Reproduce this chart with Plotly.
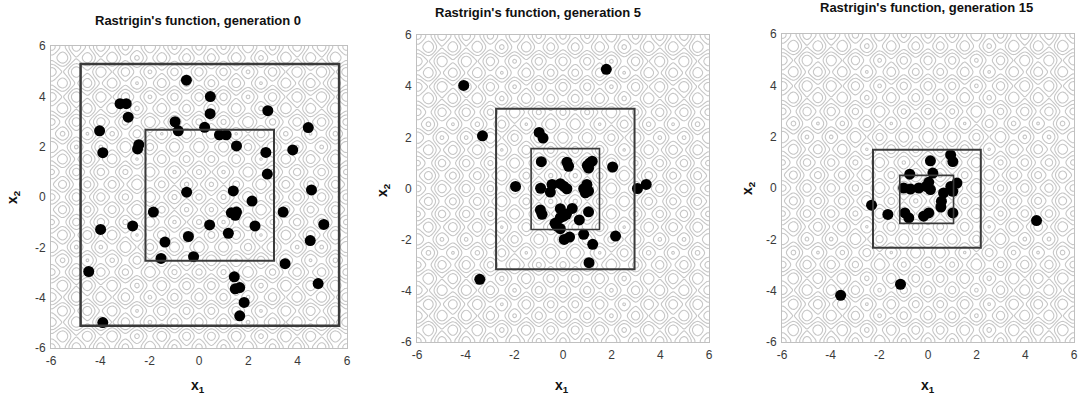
import numpy as np
import plotly.graph_objects as go

# ---------------- data ----------------
titles = ["Rastrigin's function, generation 0",
          "Rastrigin's function, generation 5",
          "Rastrigin's function, generation 15"]

gen0_x = [-0.51, -3.2, -2.95, -2.87, 0.46, 0.45, 2.79, -4.03, -0.97, -0.84, 0.23, 0.83, 1.10,
          1.52, 4.43, -3.90, -2.44, -2.49, 2.71, 3.80, 2.77, -0.50, 1.39, 4.56, 2.15, -1.85,
          1.31, 1.47, 1.52, 3.41, 5.06, -3.99, -2.69, 0.43, 2.27, 1.19, -0.43, -1.38, 4.51,
          -1.54, -0.22, 3.49, -4.47, 1.43, 1.47, 1.65, 4.83, 1.83, 1.65, -3.90]
gen0_y = [4.64, 3.71, 3.71, 3.17, 3.99, 3.31, 3.43, 2.63, 2.99, 2.63, 2.77, 2.47, 2.47,
          2.03, 2.76, 1.76, 2.08, 1.91, 1.77, 1.87, 0.91, 0.19, 0.24, 0.28, -0.16, -0.60,
          -0.63, -0.73, -0.60, -0.60, -1.09, -1.29, -1.15, -1.11, -1.15, -1.44, -1.57, -1.79, -1.73,
          -2.44, -2.37, -2.65, -2.96, -3.17, -3.65, -3.60, -3.44, -4.19, -4.72, -4.99]

gen5_x = [1.78, -4.08, -3.31, -0.98, -0.82, -0.89, 0.16, 0.23, 1.0, 1.1, 1.2, 1.05, 2.04,
          -1.95, -0.92, -0.45, -0.52, -0.11, 0.03, 0.16, 0.85, 0.98, 1.05, 0.92, 3.06, 3.42,
          -0.93, -0.86, -0.11, 0.03, -0.11, 0.14, 0.38, 1.05, 0.67, -0.33, -0.25, -0.11,
          0.05, 0.27, 0.85, 1.22, 2.16, 1.07, -3.42]
gen5_y = [4.66, 4.03, 2.06, 2.19, 1.97, 1.05, 1.03, 0.87, 0.9, 1.0, 1.07, 0.8, 0.84,
          0.08, 0.01, 0.16, -0.14, 0.19, 0.09, -0.01, -0.01, 0.16, -0.10, -0.17, 0.0, 0.16,
          -0.84, -1.01, -0.79, -1.08, -1.14, -1.01, -0.78, -0.91, -1.23, -1.36, -1.47, -1.57,
          -1.99, -1.90, -1.79, -2.18, -1.86, -2.90, -3.55]

gen15_x = [0.10, 0.93, 1.02, -0.75, 0.20, -1.0, -0.72, -0.38, 0.03, 0.10, -0.08, 0.64, 0.55,
           0.94, 1.19, 1.02, 0.53, -2.32, -1.65, -0.95, -0.79, -0.18, 0.03, 1.02, 4.46, -1.13, -3.59]
gen15_y = [1.06, 1.29, 1.03, 0.54, 0.58, 0.0, -0.04, 0.0, 0.22, -0.06, 0.06, -0.19, -0.52,
           0.06, 0.19, -0.13, -0.74, -0.67, -1.03, -0.97, -1.16, -1.10, -0.97, -0.97, -1.27, -3.75, -4.18]

# rectangles: [x0, x1, y0, y1]
outer_boxes = [[-4.80, 5.68, -5.12, 5.28], [-2.75, 2.94, -3.16, 3.12], [-2.26, 2.17, -2.33, 1.49]]
inner_boxes = [[-2.17, 3.04, -2.53, 2.67], [-1.31, 1.50, -1.60, 1.56], [-1.16, 1.05, -1.38, 0.49]]

tick_vals = [-6, -4, -2, 0, 2, 4, 6]
tick_text = ["-6", "-4", "-2", "0", "2", "4", "6"]

# ---------------- background function ----------------
def rastrigin(x, y):
    return 20 + x ** 2 - 10 * np.cos(2 * np.pi * x) + y ** 2 - 10 * np.cos(2 * np.pi * y)

grid = np.linspace(-6, 6, 301)
GX, GY = np.meshgrid(grid, grid)
Z = rastrigin(GX, GY)

pops = [(gen0_x, gen0_y), (gen5_x, gen5_y), (gen15_x, gen15_y)]

W, H = 1085, 403
# panel plot areas in pixels: left, right, top, bottom
areas = [(51, 347, 46, 348), (417, 709, 35, 342), (782, 1074, 34, 342)]
title_y = [20, 13, 7]
title_x = [198, 538, 926]
x1_pos = [(198, 386), (562, 386), (928, 386)]
x2_pos = [(13, 197), (383, 190), (748, 188)]
outer_w = [2.5, 2, 2]
inner_w = [2, 1.6, 1.6]

FONT = "Liberation Sans, Arial, sans-serif"
LINE = "#c6c6c6"

fig = go.Figure()
shapes = []
annotations = []
layout = {}
for i in range(3):
    ax = "" if i == 0 else str(i + 1)
    xa, ya = "x" + ax, "y" + ax
    l, r, t, b = areas[i]
    xdom = [l / W, r / W]
    ydom = [1 - b / H, 1 - t / H]
    fig.add_trace(go.Contour(
        x=grid, y=grid, z=Z, xaxis=xa, yaxis=ya,
        contours=dict(coloring="lines", start=3, end=93, size=9),
        line=dict(width=1.1, color=LINE),
        colorscale=[[0, LINE], [1, LINE]],
        showscale=False, hoverinfo="skip"))
    px, py = pops[i]
    fig.add_trace(go.Scatter(
        x=px, y=py, mode="markers", xaxis=xa, yaxis=ya,
        marker=dict(size=11, color="black", line=dict(width=0)),
        showlegend=False))
    for box, w in ((outer_boxes[i], outer_w[i]), (inner_boxes[i], inner_w[i])):
        shapes.append(dict(type="rect", xref=xa, yref=ya, x0=box[0], x1=box[1],
                           y0=box[2], y1=box[3], line=dict(color="#3a3a3a", width=w)))
    common = dict(range=[-6, 6], tickvals=tick_vals, ticktext=tick_text, showgrid=False,
                  zeroline=False, showline=True, linecolor="#c0c0c0", linewidth=1, mirror=True,
                  ticks="outside", ticklen=2, tickcolor="rgba(0,0,0,0)", automargin=False,
                  tickfont=dict(family=FONT, size=12, color="#3a3a3a"))
    layout["xaxis" + ax] = dict(domain=xdom, anchor=ya, **common)
    layout["yaxis" + ax] = dict(domain=ydom, anchor=xa, **common)
    annotations.append(dict(text="<b>" + titles[i] + "</b>", xref="paper", yref="paper",
                            x=title_x[i] / W, y=1 - title_y[i] / H, xanchor="center", yanchor="middle",
                            showarrow=False, font=dict(family=FONT, size=13, color="#111111")))
    annotations.append(dict(text="<b>x<sub>1</sub></b>", xref="paper", yref="paper",
                            x=x1_pos[i][0] / W, y=1 - x1_pos[i][1] / H, xanchor="center", yanchor="middle",
                            showarrow=False, font=dict(family=FONT, size=14, color="#111111")))
    annotations.append(dict(text="<b>x<sub>2</sub></b>", xref="paper", yref="paper",
                            x=x2_pos[i][0] / W, y=1 - x2_pos[i][1] / H, xanchor="center", yanchor="middle",
                            textangle=-90, showarrow=False,
                            font=dict(family=FONT, size=14, color="#111111")))

fig.update_layout(width=W, height=H, margin=dict(l=0, r=0, t=0, b=0, autoexpand=False),
                  paper_bgcolor="white", plot_bgcolor="white", showlegend=False,
                  shapes=shapes, annotations=annotations, **layout)
fig.write_html("out.html")
